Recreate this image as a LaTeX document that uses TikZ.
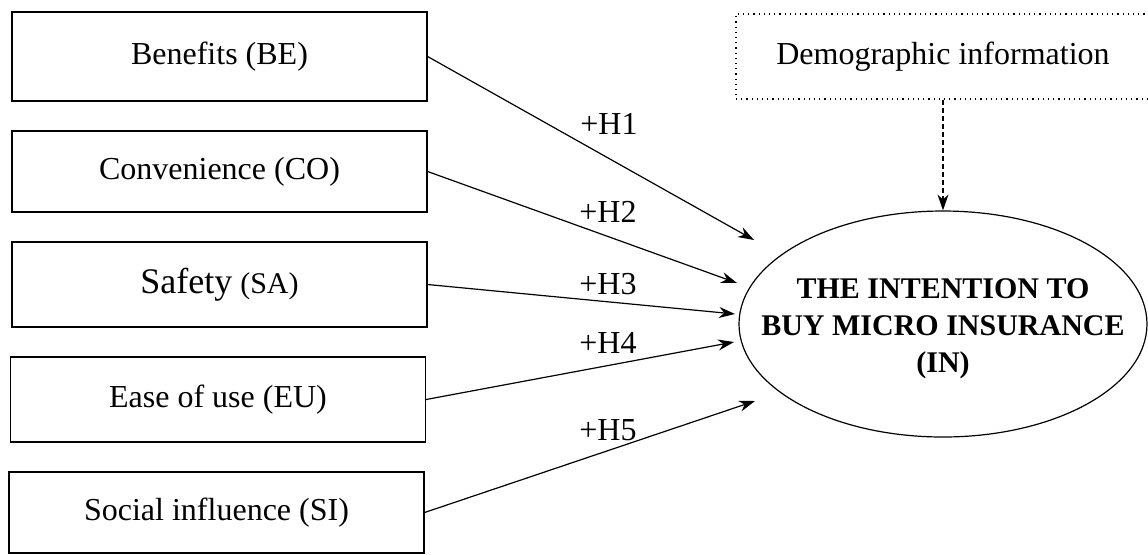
\documentclass[tikz,border=0pt]{standalone}
\usepackage{fontspec}
\setmainfont{Liberation Serif}
\usepackage{tikz}
\usetikzlibrary{arrows.meta,shapes.geometric}
\tikzset{
    factor/.style={
    rectangle,draw=black,line width=0.6pt,minimum width=207.5pt,inner sep=0pt,
    font=\fontsize{16}{19}\selectfont
    },
    demo/.style={
    rectangle,dotted,draw=black,line width=0.6pt,minimum width=207pt,minimum height=42.5pt,
    inner sep=0pt,font=\fontsize{16}{19}\selectfont
    },
    intention/.style={
    ellipse,draw=black,line width=0.6pt,minimum width=204pt,minimum height=113pt,
    inner sep=0pt
    },
    intentiontext/.style={
    align=center,inner sep=0pt,yshift=-2.5pt,font=\bfseries\fontsize{15}{18.5}\selectfont
    },
    hyp/.style={
    font=\fontsize{16}{19}\selectfont,inner sep=0pt
    },
}

\begin{document}
\begin{tikzpicture}[x=0.5pt, y=-0.5pt, >={Stealth[length=8pt,width=5.5pt]}, line width=0.6pt]
   \useasboundingbox (0,0) rectangle (1148,554);
   \node[factor,minimum height=44.5pt] (be) at (219.5,56.5) {Benefits (BE)};
   \node[factor,minimum height=40.5pt] (co) at (219.5,171.5) {Convenience (CO)};
   \node[factor,minimum height=42.5pt] (sa) at (219.5,284.5) {{\fontsize{18}{21}\selectfont Safety} {\fontsize{15}{18}\selectfont(SA)}};
   \node[factor,minimum height=42.5pt] (eu) at (218,399.5) {Ease of use (EU)};
   \node[factor,minimum height=40.5pt] (si) at (216.5,512.5) {Social influence (SI)};
   \node[demo] (dem) at (943,56.5) {Demographic information};
   \node[intention,label={[intentiontext]center:THE INTENTION TO\\BUY MICRO INSURANCE\\(IN)}] (in) at (943,324) {};
   \node[hyp] (h1) at (609,124) {+H1};
   \node[hyp] (h2) at (608,212) {+H2};
   \node[hyp] (h3) at (608,284) {+H3};
   \node[hyp] (h4) at (608,343) {+H4};
   \node[hyp] (h5) at (608,430) {+H5};
   \coordinate (t1) at (754,240);
   \coordinate (t2) at (737,283);
   \coordinate (t3) at (735,314);
   \coordinate (t4) at (734,342);
   \coordinate (t5) at (755,401);

  \path[->]
    (be.east) edge (t1)
    (co.east) edge (t2)
    (sa.east) edge (t3)
    (eu.east) edge (t4)
    (si.east) edge (t5);
  \path[->,dashed,dash pattern=on 2.5pt off 1.5pt]
    (dem) edge (in);
  \end{tikzpicture}
\end{document}
